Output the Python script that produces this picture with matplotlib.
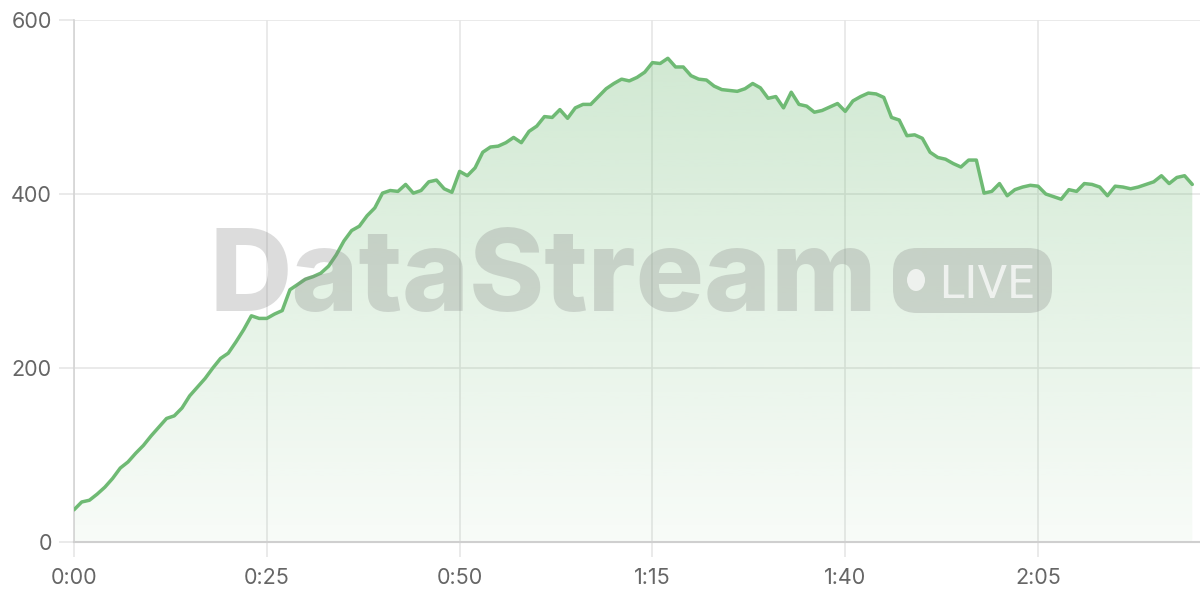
import matplotlib
matplotlib.use("Agg")
import matplotlib.pyplot as plt
import numpy as np
from matplotlib.patches import FancyBboxPatch, Ellipse
from matplotlib.colors import LinearSegmentedColormap
from matplotlib.transforms import IdentityTransform

# ---- data (one value per second) ----
values = [
    37, 46, 48, 55, 63, 73, 85, 92, 102, 111,
    122, 132, 142, 145, 154, 168, 178, 188, 200, 211,
    217, 230, 244, 260, 257, 257, 262, 266, 290, 296,
    302, 305, 309, 317, 330, 346, 358, 363, 375, 384,
    401, 404, 403, 411, 401, 404, 414, 416, 406, 402,
    426, 421, 430, 448, 454, 455, 459, 465, 459, 472,
    478, 489, 488, 497, 487, 499, 503, 503, 512, 521,
    527, 532, 530, 534, 540, 551, 550, 556, 546, 546,
    536, 532, 531, 524, 520, 519, 518, 521, 527, 522,
    510, 512, 499, 517, 503, 501, 494, 496, 500, 504,
    495, 507, 512, 516, 515, 511, 488, 485, 467, 468,
    464, 448, 442, 440, 435, 431, 439, 439, 401, 403,
    412, 398, 405, 408, 410, 409, 400, 397, 394, 405,
    403, 412, 411, 408, 398, 409, 408, 406, 408, 411,
    414, 421, 412, 419, 421, 411,
]
seconds = np.arange(len(values))
tick_seconds = [0, 25, 50, 75, 100, 125]
tick_labels = ["0:00", "0:25", "0:50", "1:15", "1:40", "2:05"]
y_ticks = [0, 200, 400, 600]

line_color = "#6fba74"
grid_color = "#e6e6e6"
text_color = "#666666"
font = ["Inter", "DejaVu Sans"]

fig = plt.figure(figsize=(12, 6), dpi=100)
ax = fig.add_axes([74 / 1200, 1 - 542 / 600, 1 - 74 / 1200, (542 - 20) / 600])
ax.set_xlim(0, 146)
ax.set_ylim(0, 600)

# gradient fill under the line
vals = np.array(values, dtype=float)
poly = ax.fill_between(seconds, vals, 0, color="none", lw=0, zorder=2)
cmap = LinearSegmentedColormap.from_list(
    "g", [(111/255, 186/255, 116/255, 0.05), (111/255, 186/255, 116/255, 0.34)])
grad = np.linspace(0, 1, 256).reshape(-1, 1)
im = ax.imshow(grad, cmap=cmap, origin="lower", aspect="auto",
               extent=[0, 146, 0, 600], zorder=2, interpolation="bilinear")
path = poly.get_paths()[0]
im.set_clip_path(path, transform=ax.transData)

ax.plot(seconds, vals, color=line_color, lw=2.5, solid_joinstyle="round",
        solid_capstyle="round", zorder=5)

# watermark
wm_col = (0.5, 0.5, 0.5, 0.27)
fig.text(209 / 1200, 1 - 311 / 600, "DataStream", fontsize=82, fontweight=800,
         family=["Inter", "DejaVu Sans"], color=wm_col, ha="left", va="baseline",
         zorder=4)
badge = FancyBboxPatch((893 / 1200, 1 - 313 / 600), (1052 - 893) / 1200, (313 - 248) / 600,
                       boxstyle="round,pad=0,rounding_size=0.02",
                       transform=fig.transFigure, facecolor=wm_col, edgecolor="none",
                       mutation_aspect=2.0, zorder=4)
fig.add_artist(badge)
fig.text(1034 / 1200, 1 - 298 / 600, "LIVE", fontsize=34, fontweight="normal",
         family=["Liberation Sans Narrow", "Roboto", "DejaVu Sans"],
         color=(1, 1, 1, 0.7), ha="right", va="baseline", zorder=4)
dot = Ellipse((916, 600 - 280), 18, 22, facecolor=(1, 1, 1, 0.7),
              edgecolor="none", zorder=4)
dot.set_transform(IdentityTransform())
fig.add_artist(dot)

# axes styling
ax.set_xticks(tick_seconds)
ax.set_xticklabels(tick_labels)
ax.set_yticks(y_ticks)
ax.grid(True, color=grid_color, lw=1.2, zorder=0)
ax.set_axisbelow(True)
for s in ["top", "right"]:
    ax.spines[s].set_visible(False)
ax.spines["left"].set_color("#d4d4d4")
ax.spines["bottom"].set_color("#cfcfcf")
ax.spines["left"].set_linewidth(1.2)
ax.spines["bottom"].set_linewidth(1.5)
ax.tick_params(axis="both", length=11, width=1.2, color=grid_color,
               labelcolor=text_color, labelsize=15.5)
ax.tick_params(axis="x", pad=8)
ax.tick_params(axis="y", pad=5)
for lab in ax.get_xticklabels() + ax.get_yticklabels():
    lab.set_family(font)

fig.savefig("out.png", dpi=100)
